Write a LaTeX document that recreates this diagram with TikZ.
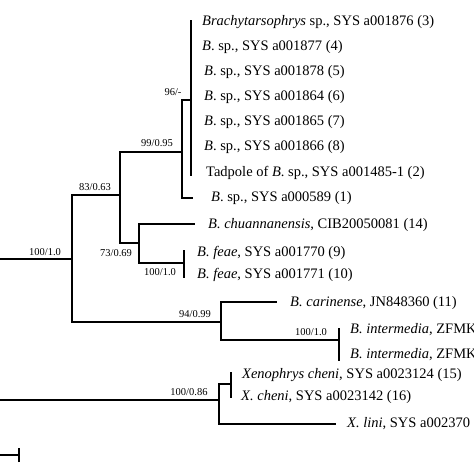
\documentclass[tikz,border=0pt]{standalone}
\usepackage{fontspec}
\setmainfont{Liberation Serif}
\usetikzlibrary{positioning}

\begin{document}
\begin{tikzpicture}[
        x=1pt, y=-1pt,
        branch/.style={line width=1.8pt},
        leaf/.style={anchor=west, inner sep=0pt, font=\fontsize{14.5}{17}\selectfont},
        supp/.style={inner sep=0pt, font=\fontsize{10.5}{12}\selectfont}
      ]
      \useasboundingbox (0,0) rectangle (474,474);
      \clip (0,0) rectangle (474,474);

      % innere Knoten
      \coordinate (root) at (-3,330);
      \coordinate (n100) at (72,259);
      \coordinate (n83) at (120,195);
      \coordinate (n99) at (182,152);
      \coordinate (n96) at (191,100);
      \coordinate (n73) at (139,243);
      \coordinate (nfe) at (184,263);
      \coordinate (n94) at (221,322);
      \coordinate (nin) at (339,340);
      \coordinate (nx) at (219,400);
      \coordinate (nxc) at (231,384);

      % Blattenden
      \coordinate (t3) at (191,20);
      \coordinate (t4) at (191,47);
      \coordinate (t5) at (191,72);
      \coordinate (t6) at (191,98);
      \coordinate (t7) at (191,122);
      \coordinate (t8) at (191,147);
      \coordinate (t2) at (191,176);
      \coordinate (t1) at (193,198);
      \coordinate (t14) at (195,224);
      \coordinate (t9) at (184,250);
      \coordinate (t10) at (184,278);
      \coordinate (t11) at (277,302);
      \coordinate (t12) at (339,328);
      \coordinate (t13) at (339,361);
      \coordinate (t15) at (231,372);
      \coordinate (t16) at (231,398);
      \coordinate (t17) at (336,424);

      % Aeste
      \draw[branch] (root) |- (n100);
      \draw[branch] (root) |- (nx);
      \draw[branch] (n100) |- (n83);
      \draw[branch] (n100) |- (n94);
      \draw[branch] (n83) |- (n99);
      \draw[branch] (n83) |- (n73);
      \draw[branch] (n99) |- (n96);
      \draw[branch] (n99) |- (t1);
      \draw[branch] (n96) -- (t3);
      \draw[branch] (n96) -- (t4);
      \draw[branch] (n96) -- (t5);
      \draw[branch] (n96) -- (t6);
      \draw[branch] (n96) -- (t7);
      \draw[branch] (n96) -- (t8);
      \draw[branch] (n96) -- (t2);
      \draw[branch] (n73) |- (t14);
      \draw[branch] (n73) |- (nfe);
      \draw[branch] (nfe) -- (t9);
      \draw[branch] (nfe) -- (t10);
      \draw[branch] (n94) |- (t11);
      \draw[branch] (n94) |- (nin);
      \draw[branch] (nin) -- (t12);
      \draw[branch] (nin) -- (t13);
      \draw[branch] (nx) |- (nxc);
      \draw[branch] (nx) |- (t17);
      \draw[branch] (nxc) -- (t15);
      \draw[branch] (nxc) -- (t16);

      % Taxa
      \node[leaf] (l3) at (202,22) {\textit{Brachytarsophrys} sp., SYS a001876 (3)};
      \node[leaf] (l4) at (202,47) {\textit{B}. sp., SYS a001877 (4)};
      \node[leaf] (l5) at (204,72) {\textit{B}. sp., SYS a001878 (5)};
      \node[leaf] (l6) at (204,97) {\textit{B}. sp., SYS a001864 (6)};
      \node[leaf] (l7) at (204,122) {\textit{B}. sp., SYS a001865 (7)};
      \node[leaf] (l8) at (204,147) {\textit{B}. sp., SYS a001866 (8)};
      \node[leaf] (l2) at (206,173) {Tadpole of \textit{B}. sp., SYS a001485-1 (2)};
      \node[leaf] (l1) at (211,198) {\textit{B}. sp., SYS a000589 (1)};
      \node[leaf] (l14) at (208,225) {\textit{B. chuannanensis}, CIB20050081 (14)};
      \node[leaf] (l9) at (197,253) {\textit{B. feae}, SYS a001770 (9)};
      \node[leaf] (l10) at (197,275) {\textit{B. feae}, SYS a001771 (10)};
      \node[leaf] (l11) at (290,303) {\textit{B. carinense}, JN848360 (11)};
      \node[leaf] (l12) at (350,330) {\textit{B. intermedia}, ZFMK};
      \node[leaf] (l13) at (350,355) {\textit{B. intermedia}, ZFMK};
      \node[leaf] (l15) at (242,375) {\textit{Xenophrys cheni}, SYS a0023124 (15)};
      \node[leaf] (l16) at (241,397) {\textit{X. cheni}, SYS a0023142 (16)};
      \node[leaf] (l17) at (347,424) {\textit{X. lini}, SYS a002370};

      % Stuetzwerte
      \node[supp] (s100) at (45,252) {100/1.0};
      \node[supp] (s83) at (95,187) {83/0.63};
      \node[supp] (s99) at (157,143) {99/0.95};
      \node[supp] (s96) at (173,92) {96/-};
      \node[supp] (s73) at (116,253) {73/0.69};
      \node[supp] (sfe) at (160,272) {100/1.0};
      \node[supp] (s94) at (195,314) {94/0.99};
      \node[supp] (sin) at (311,332) {100/1.0};
      \node[supp] (sx) at (189,392) {100/0.86};

      % Massstab
      \coordinate (sb0) at (-3,455);
      \coordinate (sb1) at (19,455);
      \draw[line width=1.4pt] (sb0) -- (sb1);
      \draw[line width=1.4pt] ([yshift=-7pt]sb1) -- ([yshift=7pt]sb1);
    \end{tikzpicture}
\end{document}
